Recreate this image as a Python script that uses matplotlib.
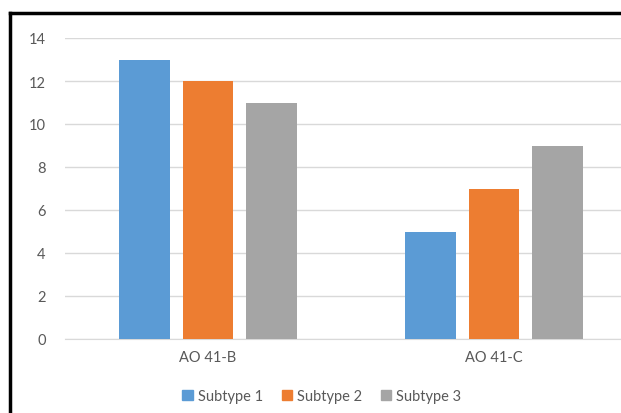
import matplotlib.pyplot as plt
from matplotlib.lines import Line2D
import numpy as np

categories = ['AO 41-B', 'AO 41-C']
series_names = ['Subtype 1', 'Subtype 2', 'Subtype 3']
subtype1 = [13, 5]
subtype2 = [12, 7]
subtype3 = [11, 9]
colors = ['#5B9BD5', '#ED7D31', '#A5A5A5']

plt.rcParams['font.family'] = ['Lato', 'DejaVu Sans']

fig = plt.figure(figsize=(6.21, 4.14), dpi=100)
ax = fig.add_axes([65 / 621, 1 - 340 / 414, 572 / 621, 301 / 414])

x = np.arange(len(categories))
width = 0.175
step = 0.222
for i, (vals, name) in enumerate(zip([subtype1, subtype2, subtype3], series_names)):
    ax.bar(x + (i - 1) * step, vals, width, color=colors[i], label=name, zorder=3)

ax.set_xlim(-0.5, 1.5)
ax.set_ylim(0, 14)
ax.set_yticks(range(0, 15, 2))
ax.set_xticks(x)
ax.set_xticklabels(categories)
ax.grid(axis='y', color='#D9D9D9', linewidth=1, zorder=0)
for s in ['top', 'right', 'left']:
    ax.spines[s].set_visible(False)
ax.spines['bottom'].set_color('#D9D9D9')
ax.tick_params(axis='both', length=0, colors='#595959', labelsize=10.5)
ax.tick_params(axis='y', pad=14)
ax.tick_params(axis='x', pad=8)

handles = [plt.Rectangle((0, 0), 1, 1, color=c) for c in colors]
fig.legend(handles, series_names, loc='center', bbox_to_anchor=(322 / 621, 1 - 397 / 414),
           ncol=3, frameon=False, fontsize=10.5, handlelength=0.7, handleheight=0.7,
           handletextpad=0.35, columnspacing=1.3, labelcolor='#595959')

# black frame visible on top and left
fig.add_artist(Line2D([10 / 621, 1], [1 - 14 / 414, 1 - 14 / 414], color='black', linewidth=2.5))
fig.add_artist(Line2D([10 / 621, 10 / 621], [0, 1 - 14 / 414], color='black', linewidth=2.5))

fig.savefig('out.png', dpi=100)
